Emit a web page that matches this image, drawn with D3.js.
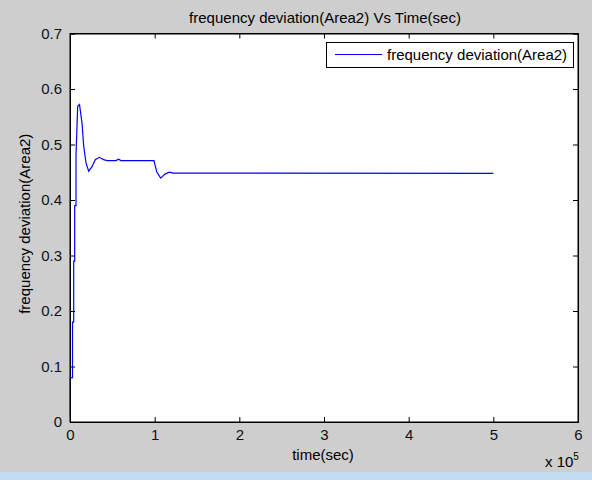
<!DOCTYPE html>
<html>
<head>
<meta charset="utf-8">
<script src="https://cdn.jsdelivr.net/npm/d3@7"></script>
<style>
    body { margin: 0; background: #cecece; }
    svg { display: block; font-family: "Liberation Sans", Arial, sans-serif; }
</style>
</head>
<body>
<svg id="chart" width="592" height="480"></svg>
<script>
// Data (time in seconds)
const timeSec = [0, 400, 400, 2950, 2950, 4370, 4370, 5550, 5550, 7090, 7090, 9090,
    11220, 14170, 16180, 18900, 22090, 25980, 29880, 34600, 39800, 43700, 54300,
    57300, 60200, 99200, 102400, 107100, 112200, 117300, 122000, 500000];
const freqDev = [0.01, 0.01, 0.08, 0.08, 0.18, 0.18, 0.29, 0.29, 0.39, 0.39, 0.48, 0.569,
    0.572, 0.539, 0.497, 0.467, 0.452, 0.460, 0.4727, 0.4769, 0.4727, 0.471, 0.471,
    0.4735, 0.471, 0.471, 0.451, 0.4395, 0.4467, 0.4503, 0.4485, 0.4478];
const xTicks = [0, 1, 2, 3, 4, 5, 6];          // x 10^5
const yTicks = [0, 0.1, 0.2, 0.3, 0.4, 0.5, 0.6, 0.7];

const margin = { top: 33.5, right: 14, bottom: 58, left: 70 };
const width = 592 - margin.left - margin.right;
const height = 480 - margin.top - margin.bottom;
const fontSize = '15px';

const svg = d3.select('#chart');

// window strip at the bottom
svg.append('rect')
    .attr('x', 0).attr('y', 472)
    .attr('width', 592).attr('height', 8)
    .attr('fill', '#c4dcf2');

const g = svg.append('g')
    .attr('transform', `translate(${margin.left}, ${margin.top})`);

const x = d3.scaleLinear().domain([0, 6e5]).range([0, width]);
const y = d3.scaleLinear().domain([0, 0.7]).range([height, 0]);

g.append('rect')
    .attr('width', width)
    .attr('height', height)
    .attr('fill', '#fff');

// Line
const points = timeSec.map((t, i) => ({ t, v: freqDev[i] }));
g.append('path')
    .datum(points)
    .attr('fill', 'none')
    .attr('stroke', '#0000ff')
    .attr('stroke-width', 1.2)
    .attr('d', d3.line().x(d => x(d.t)).y(d => y(d.v)));

// Axes with inward ticks
const tickLen = 5;
const xAxis = d3.axisBottom(x).tickValues(xTicks.map(d => d * 1e5))
    .tickSize(-tickLen).tickPadding(7).tickFormat((d, i) => xTicks[i]);
const yAxis = d3.axisLeft(y).tickValues(yTicks)
    .tickSize(-tickLen).tickPadding(8).tickFormat(d => d);

g.append('g').attr('transform', `translate(0, ${height})`).call(xAxis);
g.append('g').call(yAxis);
g.append('g').call(d3.axisTop(x).tickValues(xTicks.map(d => d * 1e5)).tickSize(-tickLen).tickFormat(''));
g.append('g').attr('transform', `translate(${width}, 0)`)
    .call(d3.axisRight(y).tickValues(yTicks).tickSize(-tickLen).tickFormat(''));

g.selectAll('.domain').attr('stroke', '#000');
g.selectAll('.tick line').attr('stroke', '#000');
g.selectAll('.tick text').style('font-size', fontSize).attr('fill', '#111');

// Box
g.append('rect')
    .attr('width', width)
    .attr('height', height)
    .attr('fill', 'none')
    .attr('stroke', '#000');

// Title and labels
svg.append('text')
    .attr('x', 325).attr('y', 23)
    .attr('text-anchor', 'middle')
    .style('font-size', fontSize)
    .text('frequency deviation(Area2) Vs Time(sec)');

svg.append('text')
    .attr('x', 323).attr('y', 460)
    .attr('text-anchor', 'middle')
    .style('font-size', fontSize)
    .text('time(sec)');

svg.append('text')
    .attr('transform', `translate(30, ${margin.top + height / 2 - 4}) rotate(-90)`)
    .attr('text-anchor', 'middle')
    .style('font-size', fontSize)
    .text('frequency deviation(Area2)');

const exp = svg.append('text')
    .attr('x', 545).attr('y', 467)
    .style('font-size', fontSize)
    .text('x 10');
exp.append('tspan').attr('dy', -7).style('font-size', '10px').text('5');

// Legend
const legend = svg.append('g');
legend.append('rect')
    .attr('x', 326.5).attr('y', 42.5)
    .attr('width', 247).attr('height', 25)
    .attr('fill', '#fff').attr('stroke', '#000');
legend.append('line')
    .attr('x1', 335).attr('x2', 382)
    .attr('y1', 54.5).attr('y2', 54.5)
    .attr('stroke', '#0000ff').attr('stroke-width', 1.2);
legend.append('text')
    .attr('x', 387).attr('y', 60)
    .style('font-size', fontSize)
    .text('frequency deviation(Area2)');
</script>
</body>
</html>
